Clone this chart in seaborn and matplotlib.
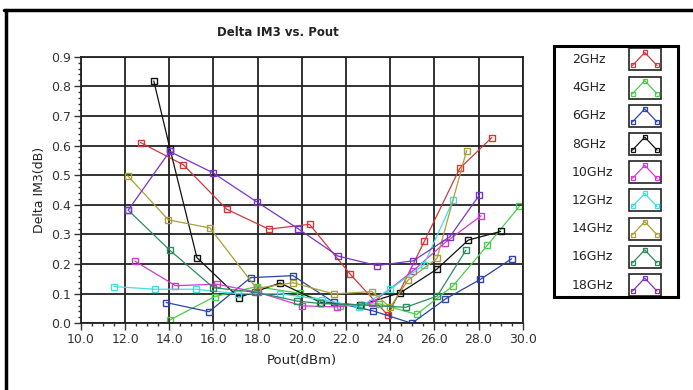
import matplotlib
matplotlib.use("Agg")
import matplotlib.pyplot as plt
import seaborn as sns
import pandas as pd
from matplotlib.lines import Line2D
from matplotlib.patches import Rectangle
from matplotlib.ticker import MultipleLocator

# Datos
labels = ["2GHz", "4GHz", "6GHz", "8GHz", "10GHz", "12GHz", "14GHz", "16GHz", "18GHz"]
colors = ["#d03a3a", "#4ccc4c", "#2c44a8", "#111111", "#d23ad2",
          "#44dede", "#a8a038", "#2e8a5c", "#7a34c4"]

x_2 = [12.7, 14.64, 16.6, 18.5, 20.35, 22.2, 23.9, 25.55, 27.15, 28.6]
y_2 = [0.61, 0.535, 0.385, 0.318, 0.334, 0.165, 0.027, 0.277, 0.523, 0.627]

x_4 = [14.05, 16.05, 17.95, 19.9, 21.73, 23.5, 25.2, 26.85, 28.4, 29.85]
y_4 = [0.012, 0.09, 0.124, 0.101, 0.059, 0.066, 0.030, 0.127, 0.263, 0.395]

x_6 = [13.86, 15.8, 17.68, 19.6, 21.44, 23.22, 24.98, 26.5, 28.08, 29.5]
y_6 = [0.07, 0.039, 0.154, 0.161, 0.071, 0.042, 0.0, 0.082, 0.148, 0.218]

x_8 = [13.3, 14.03, 15.25, 17.14, 19.02, 20.88, 22.64, 24.46, 26.1, 27.54, 29.0]
y_8 = [0.818, 0.59, 0.222, 0.087, 0.136, 0.07, 0.062, 0.103, 0.182, 0.281, 0.31]

x_10 = [12.44, 14.28, 16.14, 18.0, 20.0, 21.6, 23.2, 25.05, 26.48, 28.12]
y_10 = [0.21, 0.127, 0.132, 0.105, 0.059, 0.055, 0.07, 0.178, 0.272, 0.363]

x_12 = [11.5, 13.34, 15.2, 17.1, 19.0, 20.9, 22.6, 24.0, 25.52, 26.86]
y_12 = [0.124, 0.115, 0.115, 0.10, 0.10, 0.08, 0.055, 0.115, 0.197, 0.417]

x_14 = [12.12, 13.96, 15.84, 17.95, 19.6, 21.44, 23.18, 24.0, 24.8, 26.12, 27.46]
y_14 = [0.498, 0.349, 0.322, 0.118, 0.137, 0.099, 0.107, 0.054, 0.145, 0.219, 0.583]

x_16 = [12.14, 14.02, 16.0, 17.9, 19.8, 20.82, 22.66, 24.7, 26.13, 27.43]
y_16 = [0.382, 0.247, 0.12, 0.105, 0.075, 0.067, 0.062, 0.054, 0.092, 0.247]

x_18 = [12.14, 14.02, 15.98, 17.96, 19.82, 21.64, 23.4, 25.05, 26.7, 28.04]
y_18 = [0.382, 0.58, 0.508, 0.41, 0.32, 0.227, 0.195, 0.211, 0.292, 0.433]

series_x = [x_2, x_4, x_6, x_8, x_10, x_12, x_14, x_16, x_18]
series_y = [y_2, y_4, y_6, y_8, y_10, y_12, y_14, y_16, y_18]

x_ticks = [10, 12, 14, 16, 18, 20, 22, 24, 26, 28, 30]
y_ticks = [0.0, 0.1, 0.2, 0.3, 0.4, 0.5, 0.6, 0.7, 0.8, 0.9]

sns.set_theme(style="white")
plt.rcParams["font.family"] = ["DejaVu Sans"]

W, H = 693, 390
fig = plt.figure(figsize=(W / 100, H / 100), dpi=100)

# Area de la grafica
ax = fig.add_axes([80.9 / W, 1 - 323.3 / H, (522.7 - 80.9) / W, (323.3 - 56.7) / H])

for xs, ys, c in zip(series_x, series_y, colors):
    df = pd.DataFrame({"x": xs, "y": ys})
    sns.lineplot(data=df, x="x", y="y", ax=ax, color=c, linewidth=0.9,
                 marker="s", markersize=4.8, markerfacecolor="none",
                 markeredgecolor=c, markeredgewidth=1.0, sort=False,
                 estimator=None)

ax.set_xlim(10, 30)
ax.set_ylim(0, 0.9)
ax.set_xticks(x_ticks)
ax.set_xticklabels([f"{v:.1f}" for v in x_ticks], fontsize=9, color="#333333")
ax.set_yticks(y_ticks)
ax.set_yticklabels([f"{v:.1f}" for v in y_ticks], fontsize=9, color="#333333")
ax.xaxis.set_minor_locator(MultipleLocator(0.5))
ax.yaxis.set_minor_locator(MultipleLocator(0.02))
ax.tick_params(axis="both", which="major", direction="out", length=5, width=1,
               color="#333333", left=True, bottom=True, pad=2)
ax.tick_params(axis="both", which="minor", direction="out", length=2.5, width=1,
               color="#333333", left=True, bottom=True)
ax.grid(True, which="major", color="#222222", linewidth=1.3)
for s in ax.spines.values():
    s.set_color("#222222")
    s.set_linewidth(1.3)
ax.set_axisbelow(True)

ax.set_xlabel("Pout(dBm)", fontsize=9.5, color="#222222", labelpad=6)
ax.set_ylabel("Delta IM3(dB)", fontsize=9, color="#222222", labelpad=4)

fig.text(278 / W, 1 - 33 / H, "Delta IM3 vs. Pout", ha="center", va="center",
         fontsize=8.5, fontweight="bold", color="#222222")

# Leyenda estilo LabVIEW
lx0, ly0, lx1, ly1 = 553.5, 46, 678, 297
lax = fig.add_axes([lx0 / W, 1 - ly1 / H, (lx1 - lx0) / W, (ly1 - ly0) / H])
lax.set_xlim(0, lx1 - lx0)
lax.set_ylim(ly1 - ly0, 0)
lax.set_xticks([])
lax.set_yticks([])
for s in lax.spines.values():
    s.set_color("black")
    s.set_linewidth(2.2)

row_h = 28.2
for i, (lab, c) in enumerate(zip(labels, colors)):
    cy = 13.5 + i * row_h
    lax.text(18.5, cy, lab, ha="left", va="center", fontsize=9, color="#222222")
    bx0, bx1 = 75, 107.5
    lax.add_patch(Rectangle((bx0, cy - 11), bx1 - bx0, 22, fill=False,
                            edgecolor="#222222", linewidth=1.2))
    ix = [bx0 + 4, (bx0 + bx1) / 2, bx1 - 4]
    iy = [cy + 6, cy - 7, cy + 6]
    lax.plot(ix, iy, color=c, linewidth=0.9, marker="s", markersize=3.5,
             markerfacecolor="none", markeredgecolor=c, markeredgewidth=0.9)

# Marco de la figura
fig.add_artist(Line2D([5.5 / W, 5.5 / W], [0, 1 - 9.5 / H], color="black",
                      linewidth=2.5, transform=fig.transFigure))
fig.add_artist(Line2D([4.3 / W, 1], [1 - 9.5 / H, 1 - 9.5 / H], color="black",
                      linewidth=2.5, transform=fig.transFigure))

fig.savefig("out.png", dpi=100)
